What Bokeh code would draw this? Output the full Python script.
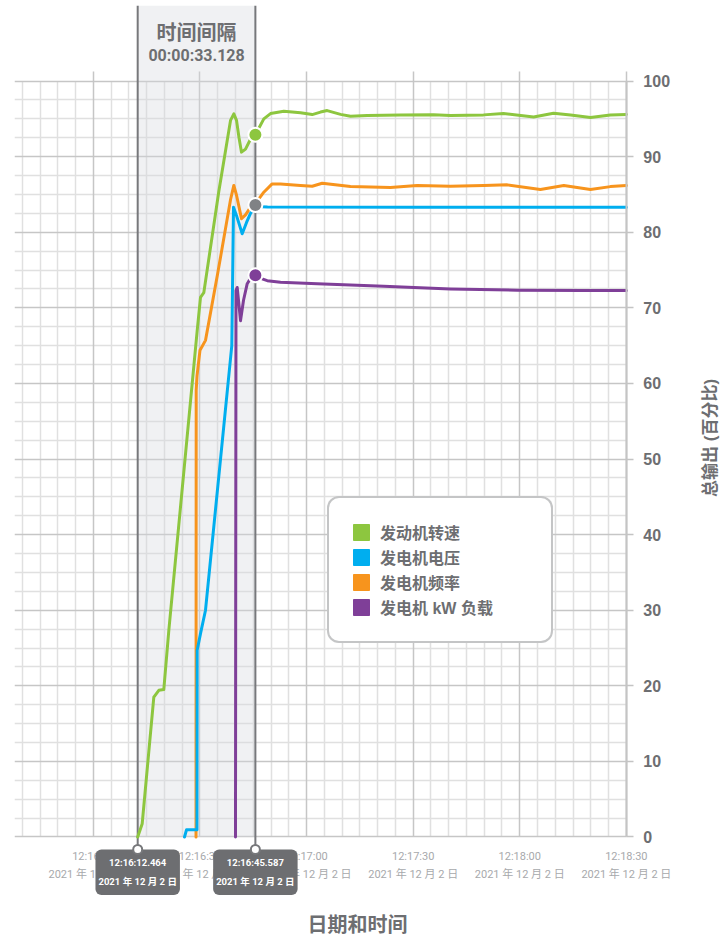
import math
import pandas as pd
from bokeh.plotting import figure
from bokeh.models import (Range1d, LinearAxis, FixedTicker, Grid, Legend, LegendItem)
from bokeh.embed import file_html
from bokeh.resources import INLINE
from bokeh.core.properties import value

# ---------------- data ----------------
T0 = pd.Timestamp("2021-12-02 12:16:00")
T0_MS = T0.value / 1e6

def ms(sec):
    return T0_MS + sec * 1000.0

# seconds after 12:16:00
cursor_start = 12.464
cursor_end = 45.587
cursor_start_text = "12:16:12.464"
cursor_end_text = "12:16:45.587"
interval_title = "时间间隔"
interval_text = "00:00:33.128"
date_text = "2021 年 12 月 2 日"

engine_t = [12.464, 13.73, 17.0, 18.41, 19.81, 21.22, 29.21, 30.14, 31.07, 35.29, 38.59,
            39.52, 40.28, 40.98, 41.68, 42.81, 44.21, 45.587, 47.96, 49.85, 53.59, 58.29,
            61.58, 63.92, 65.80, 69.55, 72.36, 77.06, 86.43, 95.72, 100.5, 109.8, 115.4,
            123.9, 129.5, 134.3, 139.9, 145.5, 150.0]
engine_v = [0, 1.75, 18.5, 19.4, 19.5, 27.3, 67.0, 71.4, 72.0, 85.4, 94.8,
            95.66, 94.8, 92.5, 90.6, 91.0, 92.3, 92.9, 95.0, 95.7, 96.0, 95.8,
            95.57, 95.9, 96.1, 95.6, 95.34, 95.44, 95.53, 95.55, 95.44, 95.53, 95.7,
            95.26, 95.74, 95.5, 95.17, 95.5, 95.57]

voltage_t = [25.64, 26.2, 27.8, 29.15, 29.2, 30.14, 31.55, 38.95, 39.43, 40.28, 41.88,
             43.1, 44.21, 45.587, 49.0, 90.0, 150.0]
voltage_v = [0, 0.95, 0.95, 0.95, 24.7, 26.9, 30.0, 65.0, 83.3, 82.2, 79.8,
             81.3, 82.5, 83.4, 83.35, 83.3, 83.3]

freq_t = [28.88, 28.93, 29.16, 30.0, 31.55, 35.0, 38.59, 39.52, 40.28, 41.68, 42.81,
          44.21, 45.587, 47.96, 50.3, 52.66, 58.29, 61.58, 64.4, 72.36, 83.6, 91.1,
          100.5, 109.9, 116.5, 125.8, 132.4, 139.9, 145.5, 150.0]
freq_v = [0, 59.1, 61.0, 64.4, 65.7, 74.6, 84.3, 86.2, 84.9, 81.8, 82.3,
          83.3, 83.8, 85.3, 86.4, 86.4, 86.2, 86.09, 86.48, 86.04, 85.91, 86.18,
          86.09, 86.18, 86.27, 85.65, 86.18, 85.65, 86.04, 86.18]

load_t = [39.99, 40.13, 40.47, 40.84, 41.40, 42.25, 43.29, 44.21, 45.587, 46.47, 48.92,
          52.66, 63.0, 81.7, 100.5, 119.3, 138.0, 150.0]
load_v = [0, 72.3, 72.7, 71.0, 68.3, 71.0, 73.2, 73.9, 74.3, 74.0, 73.6,
          73.4, 73.2, 72.86, 72.5, 72.33, 72.3, 72.3]

series_names = ["发动机转速", "发电机电压", "发电机频率", "发电机 kW 负载"]
cursor_values = [92.9, 83.6, 74.3]

time_ticks = [0, 30, 60, 90, 120, 150]
time_tick_labels = ["12:16:00", "12:16:30", "12:17:00", "12:17:30", "12:18:00", "12:18:30"]
pct_ticks = [0, 10, 20, 30, 40, 50, 60, 70, 80, 90, 100]
y_title = "总输出 (百分比)"
x_title = "日期和时间"

# ---------------- style ----------------
GREEN = "#8dc63f"
BLUE = "#00aeef"
ORANGE = "#f7941d"
PURPLE = "#7f3f98"
GRAYMARK = "#808285"
TXT = "#6d6e71"
CUR = "#77787b"
LIGHT = "#a7a9ac"
GRID_MAJ = "#c6c6c6"
GRID_MIN = "#e0e0e0"
NUM = "Roboto, Noto Sans CJK SC"
SANS = "Liberation Sans, Noto Sans CJK SC"

# visible window: the data area runs from X0 to X_END; the frame continues to the right
X0, X_END, X1 = -22.21, 150.0, 178.75
Y0, Y1 = -13.43, 110.0
BOTTOM_PIN = -1.65
TICK_Y = -3.77

def setp(obj, **kw):
    props = obj.properties()
    for k, v in kw.items():
        if k in props:
            setattr(obj, k, v)

p = figure(width=728, height=938, output_backend="svg", toolbar_location=None,
           x_range=Range1d(ms(X0), ms(X1)), y_range=Range1d(Y0, Y1),
           x_axis_type=None, y_axis_type=None,
           min_border_left=14, min_border_right=0, min_border_top=5, min_border_bottom=0)
p.outline_line_color = None
p.background_fill_color = "white"
p.border_fill_color = "white"

# ---------------- grid ----------------
minor_x = [ms(s) for s in range(-20, 150, 5) if s % 30 != 0]
major_x = [ms(s) for s in time_ticks]
minor_y = [v / 2.0 for v in range(0, 201, 5) if v % 20 != 0]
xspan = (ms(X0), ms(X_END))

g1 = Grid(dimension=0, ticker=FixedTicker(ticks=minor_x), grid_line_color=GRID_MIN, grid_line_width=1.5)
setp(g1, cross_bounds=(0, 100))
g2 = Grid(dimension=1, ticker=FixedTicker(ticks=minor_y), grid_line_color=GRID_MIN, grid_line_width=1.5)
setp(g2, cross_bounds=xspan)
g3 = Grid(dimension=1, ticker=FixedTicker(ticks=pct_ticks), grid_line_color=GRID_MAJ, grid_line_width=1.5)
setp(g3, cross_bounds=xspan)
g4 = Grid(dimension=0, ticker=FixedTicker(ticks=major_x), grid_line_color=GRID_MAJ, grid_line_width=1.5)
setp(g4, cross_bounds=(0, 101.32))
for g in (g1, g2, g3, g4):
    p.add_layout(g)

# right axis, pinned at the end of the data area (12:18:30)
ax = LinearAxis(ticker=FixedTicker(ticks=pct_ticks), bounds=(0, 100), fixed_location=ms(X_END))
ax.axis_line_color = "#c4c4c4"
ax.axis_line_width = 2
ax.major_tick_line_color = "#c4c4c4"
ax.major_tick_line_width = 1.5
ax.major_tick_out = 7
ax.major_tick_in = 0
ax.minor_tick_line_color = None
ax.major_label_standoff = 10
ax.major_label_text_font = "Liberation Sans"
ax.major_label_text_font_style = "bold"
ax.major_label_text_font_size = "16px"
ax.major_label_text_color = TXT
p.add_layout(ax, "right")

# ---------------- cursor band ----------------
p.quad(left=[ms(cursor_start)], right=[ms(cursor_end)], bottom=[0], top=[Y1],
       fill_color="#d4d7dd", fill_alpha=0.35, line_color=None)
p.segment(x0=[ms(cursor_start), ms(cursor_end)], x1=[ms(cursor_start), ms(cursor_end)],
          y0=[BOTTOM_PIN, BOTTOM_PIN], y1=[Y1, Y1], line_color=CUR, line_width=2)

mid = ms((cursor_start + cursor_end) / 2)
p.text(x=[mid], y=[106.3], text=[interval_title], text_align="center", text_baseline="middle",
       text_font=value(SANS), text_font_style="bold", text_font_size="20px", text_color=TXT)
p.text(x=[mid], y=[103.4], text=[interval_text], text_align="center", text_baseline="middle",
       text_font=value(NUM), text_font_style="bold", text_font_size="16px", text_color=TXT)

# ---------------- series ----------------
lines = [(engine_t, engine_v, GREEN), (freq_t, freq_v, ORANGE),
         (voltage_t, voltage_v, BLUE), (load_t, load_v, PURPLE)]
for tt, vv, c in lines:
    p.line(x=[ms(t) for t in tt], y=vv, line_color=c, line_width=3,
           line_join="round", line_cap="round")

p.scatter(x=[ms(cursor_end)] * 3, y=cursor_values, size=14,
          fill_color=[GREEN, GRAYMARK, PURPLE], line_color="white", line_width=2)

# ---------------- x tick labels ----------------
tick_text = [lab + "\n" + date_text for lab in time_tick_labels]
p.text(x=[ms(t) for t in time_ticks], y=[TICK_Y] * len(time_ticks),
       text=tick_text, text_align="center", text_baseline="middle",
       text_font=value(NUM), text_font_size="11px", text_color=LIGHT, text_line_height=1.45)

# cursor read-outs (rounded boxes)
box_text = [cursor_start_text + "\n" + date_text, cursor_end_text + "\n" + date_text]
bt = p.text(x=[ms(cursor_start), ms(cursor_end)], y=[BOTTOM_PIN] * 2, y_offset=0,
            text=box_text, text_align="center", text_baseline="top",
            text_font=value(NUM), text_font_size="9.5px", text_font_style="bold",
            text_color="white", text_line_height=1.68)
setp(bt.glyph, background_fill_color=TXT, background_fill_alpha=1.0,
     padding=dict(left=3, right=3, top=8, bottom=8), border_radius=6)

p.scatter(x=[ms(cursor_start), ms(cursor_end)], y=[BOTTOM_PIN, BOTTOM_PIN], size=9,
          fill_color="white", line_color=CUR, line_width=2)

# axis titles
p.text(x=[ms(173.7)], y=[52.8], angle=math.pi / 2, text=[y_title],
       text_align="center", text_baseline="middle", text_font=value(SANS),
       text_font_style="bold", text_font_size="17px", text_color=TXT)
p.text(x=[ms(74.33)], y=[-11.71], text=[x_title],
       text_align="center", text_baseline="middle", text_font=value(SANS),
       text_font_style="bold", text_font_size="20px", text_color=TXT)

# ---------------- legend ----------------
nan = float("nan")
items = []
for name, c in zip(series_names, [GREEN, BLUE, ORANGE, PURPLE]):
    r = p.quad(left=[nan], right=[nan], top=[nan], bottom=[nan], fill_color=c, line_color=c)
    items.append(LegendItem(label=name, renderers=[r]))
leg = Legend(items=items, location=(313, 295))
leg.border_line_color = "#8a8b8d"
leg.border_line_width = 2
leg.background_fill_color = "white"
leg.background_fill_alpha = 1.0
leg.glyph_width = 20
leg.glyph_height = 20
leg.spacing = 1
leg.padding = 22
leg.label_standoff = 9
leg.label_width = 149
leg.label_height = 20
leg.label_text_font = SANS
leg.label_text_font_style = "bold"
leg.label_text_font_size = "16px"
leg.label_text_color = TXT
leg.label_text_baseline = "middle"
setp(leg, border_radius=12)
p.add_layout(leg)

open("out.html", "w").write(file_html(p, INLINE))
